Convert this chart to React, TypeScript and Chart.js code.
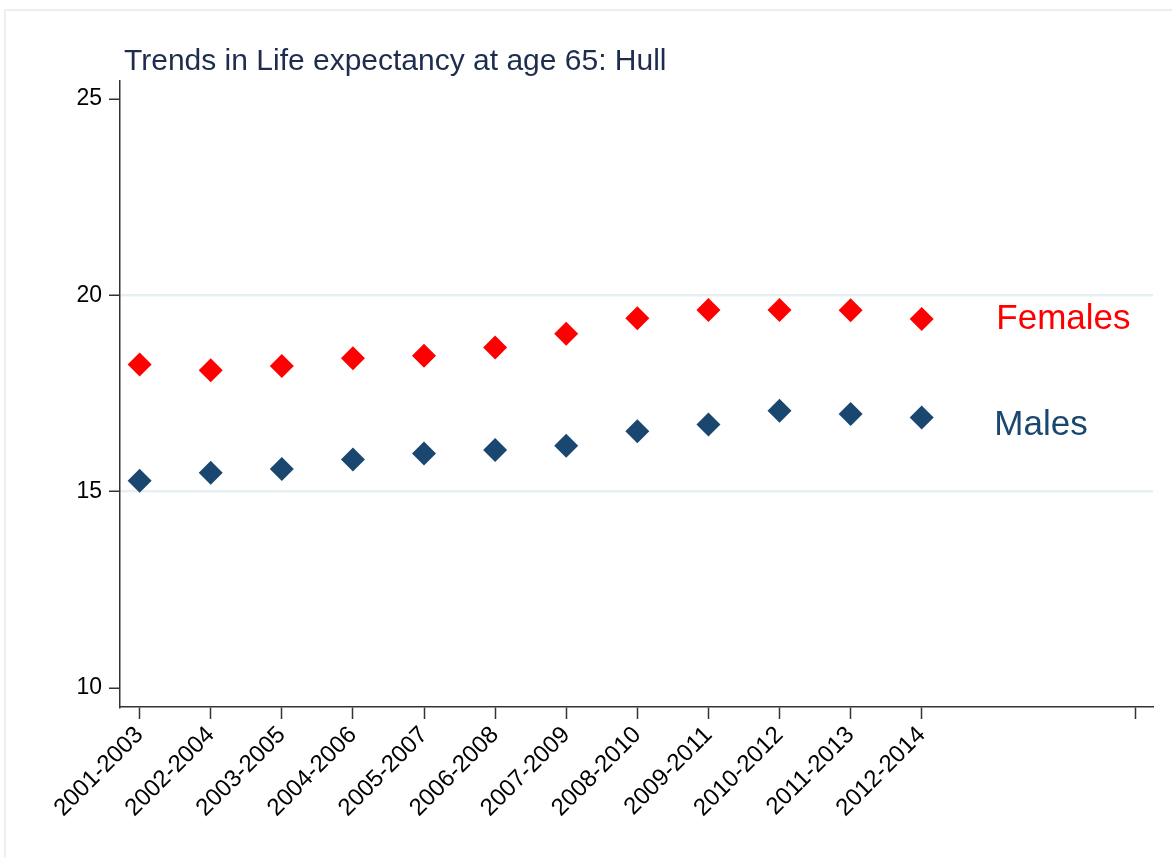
import React, { useEffect, useRef } from "react";
import { Chart, registerables } from "chart.js";

Chart.register(...registerables);

const categories = [
  "2001-2003", "2002-2004", "2003-2005", "2004-2006", "2005-2007", "2006-2008",
  "2007-2009", "2008-2010", "2009-2011", "2010-2012", "2011-2013", "2012-2014",
];
const females = [18.24, 18.09, 18.2, 18.4, 18.46, 18.67, 19.02, 19.42, 19.63, 19.63, 19.62, 19.4];
const males = [15.28, 15.48, 15.58, 15.82, 15.97, 16.06, 16.17, 16.54, 16.71, 17.06, 16.98, 16.89];
const yTicks = [10, 15, 20, 25];
const yGridValues = [15, 20];
const xTickPositions = [1, 2, 3, 4, 5, 6, 7, 8, 9, 10, 11, 12, 15];
const title = "Trends in Life expectancy at age 65: Hull";
const seriesNames = ["Females", "Males"];

const FONT = "'Liberation Sans', Arial, Helvetica, sans-serif";
const RED = "#ff0000";
const NAVY = "#1a476f";

const decorPlugin = {
  id: "decor",
  beforeDraw(chart: any) {
    const ctx = chart.ctx;
    ctx.save();
    ctx.fillStyle = "#ffffff";
    ctx.fillRect(0, 0, chart.width, chart.height);
    ctx.strokeStyle = "#e8f0f3";
    ctx.lineWidth = 2;
    ctx.strokeRect(5, 10, chart.width + 20, chart.height + 20);
    ctx.restore();
  },
  afterDraw(chart: any) {
    const ctx = chart.ctx;
    const xs = chart.scales.x;
    const ys = chart.scales.y;
    ctx.save();
    ctx.fillStyle = "#1e2d4f";
    ctx.font = `30px ${FONT}`;
    ctx.textAlign = "left";
    ctx.textBaseline = "alphabetic";
    ctx.fillText(title, 124, 70);

    ctx.font = `35px ${FONT}`;
    ctx.textBaseline = "middle";
    const lx = xs.getPixelForValue(13.05);
    ctx.fillStyle = RED;
    ctx.fillText(seriesNames[0], lx, ys.getPixelForValue(19.4));
    ctx.fillStyle = NAVY;
    ctx.fillText(seriesNames[1], lx - 2, ys.getPixelForValue(16.68));
    ctx.restore();
  },
};

export default function App() {
  const ref = useRef<HTMLCanvasElement>(null);
  useEffect(() => {
    if (!ref.current) return;
    const chart = new Chart(ref.current, {
      type: "scatter",
      data: {
        datasets: [
          {
            label: seriesNames[0],
            data: females.map((v, i) => ({ x: i + 1, y: v })),
            backgroundColor: RED,
            borderColor: RED,
            pointStyle: "rectRot",
            pointRadius: 12,
            pointBorderWidth: 0,
          },
          {
            label: seriesNames[1],
            data: males.map((v, i) => ({ x: i + 1, y: v })),
            backgroundColor: NAVY,
            borderColor: NAVY,
            pointStyle: "rectRot",
            pointRadius: 12,
            pointBorderWidth: 0,
          },
        ],
      },
      options: {
        responsive: false,
        animation: false,
        layout: { padding: { top: 81, right: 19, left: 0, bottom: 0 } },
        plugins: {
          legend: { display: false },
          title: { display: false },
          tooltip: { enabled: false },
        },
        scales: {
          x: {
            type: "linear",
            min: 0.724,
            max: 15.253,
            afterBuildTicks: (scale: any) => {
              scale.ticks = xTickPositions.map((v) => ({ value: v }));
            },
            afterFit: (scale: any) => {
              scale.height = 150;
            },
            ticks: {
              autoSkip: false,
              maxRotation: 45,
              minRotation: 45,
              padding: 2,
              color: "#000000",
              font: { family: FONT, size: 24 },
              callback: (v: any) => {
                const i = Number(v) - 1;
                return Number.isInteger(i) && i >= 0 && i < categories.length ? categories[i] : "";
              },
            },
            grid: {
              drawOnChartArea: false,
              drawTicks: true,
              tickLength: 12,
              tickColor: "#333333",
              tickWidth: 1.5,
            },
            border: { display: true, color: "#333333", width: 1.5 },
          },
          y: {
            type: "linear",
            min: 9.516,
            max: 25.46,
            afterBuildTicks: (scale: any) => {
              scale.ticks = yTicks.map((v) => ({ value: v }));
            },
            afterFit: (scale: any) => {
              scale.width = 120;
            },
            ticks: {
              padding: 7,
              color: "#000000",
              font: { family: FONT, size: 23 },
              callback: (v: any) => String(v),
            },
            grid: {
              color: (c: any) =>
                c.tick && yGridValues.includes(c.tick.value) ? "#e6eff1" : "rgba(0,0,0,0)",
              lineWidth: 2.5,
              drawTicks: true,
              tickLength: 11,
              tickColor: "#333333",
              tickWidth: 1.5,
            },
            border: { display: true, color: "#333333", width: 1.5 },
          },
        },
      },
      plugins: [decorPlugin],
    });
    return () => chart.destroy();
  }, []);
  return (
    <div style={{ position: "absolute", left: 0, top: 0, width: 1172, height: 857 }}>
      <canvas ref={ref} width={1172} height={857} style={{ display: "block" }} />
    </div>
  );
}
